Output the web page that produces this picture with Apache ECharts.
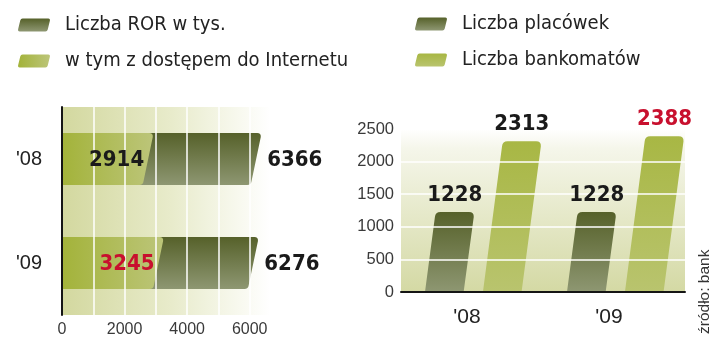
<!DOCTYPE html>
<html><head><meta charset="utf-8">
<script src="https://cdn.jsdelivr.net/npm/echarts@6/dist/echarts.min.js"></script>
<style>html,body{margin:0;padding:0;background:#fff}#c{width:720px;height:341px}</style>
</head><body><div id="c"></div>
<script>
// ---- data ----
const yearsLeft = ["'08", "'09"];
const rorTotal = [6366, 6276];          // Liczba ROR w tys.
const rorInternet = [2914, 3245];       // w tym z dostępem do Internetu
const leftTicks = [0, 2000, 4000, 6000];

const yearsRight = ["'08", "'09"];
const placowki = [1228, 1228];          // Liczba placówek
const bankomaty = [2313, 2388];         // Liczba bankomatów
const rightTicks = [0, 500, 1000, 1500, 2000, 2500];

// ---- styling ----
const NARROW = "'Liberation Sans Narrow','DejaVu Sans Condensed','Liberation Sans',sans-serif";
const NUMFONT = "bold 22px " + NARROW;
const RED = '#c8102e';
const INK = '#1a1a1a';
const G = echarts.graphic.LinearGradient;
const darkFill = () => new G(0, 0, 0, 1, [{offset: 0, color: '#56612a'}, {offset: 1, color: '#8e9772'}]);
const lightFillH = () => new G(0, 0, 1, 0, [{offset: 0, color: '#a3b33a'}, {offset: 1, color: '#bcc579'}]);
const lightFillV = () => new G(0, 0, 0, 1, [{offset: 0, color: '#a8b744'}, {offset: 1, color: '#b9c46e'}]);

function hBarPath(x0, x1, top, bot, slant, r) {
  return 'M' + x0 + ',' + top +
    ' L' + (x1 - r) + ',' + top +
    ' Q' + x1 + ',' + top + ' ' + (x1 - 0.4) + ',' + (top + r) +
    ' L' + (x1 - slant + 0.4) + ',' + (bot - r) +
    ' Q' + (x1 - slant) + ',' + bot + ' ' + (x1 - slant - r) + ',' + bot +
    ' L' + x0 + ',' + bot + ' Z';
}
function vBarPath(bl, br, base, top, slant, r) {
  const tl = bl + slant, tr = br + slant;
  return 'M' + bl + ',' + base +
    ' L' + (tl - 0.5) + ',' + (top + r) +
    ' Q' + tl + ',' + top + ' ' + (tl + r) + ',' + top +
    ' L' + (tr - r) + ',' + top +
    ' Q' + tr + ',' + top + ' ' + (tr - 0.3) + ',' + (top + r) +
    ' L' + br + ',' + base + ' Z';
}

function leftRender(kind, mode) {
  return function (params, api) {
    const v = api.value(0), c = api.value(1);
    const end = api.coord([v, c]);
    const start = api.coord([0, c]);
    const bh = api.size([0, 1])[1] * 0.5;
    const top = end[1] - bh / 2, bot = end[1] + bh / 2;
    if (mode === 'bar') {
      return {type: 'path', shape: {pathData: hBarPath(start[0], end[0], top, bot, 10, 4)},
        style: {fill: kind === 'dark' ? darkFill() : lightFillH()}};
    }
    if (kind === 'dark') {
      return {type: 'text', style: {text: String(v), x: end[0] + 6, y: end[1] + 1,
        align: 'left', verticalAlign: 'middle', font: NUMFONT, fill: INK}};
    }
    return {type: 'text', style: {text: String(v), x: end[0] - 9, y: end[1] + 1,
      align: 'right', verticalAlign: 'middle', font: NUMFONT,
      fill: params.dataIndex === rorInternet.length - 1 ? RED : INK}};
  };
}

function rightRender(kind, mode) {
  return function (params, api) {
    const c = api.value(0), v = api.value(1);
    const base = api.coord([c, 0]);
    const topP = api.coord([c, v]);
    const bw = api.size([1, 0])[0];
    const off0 = kind === 'dark' ? -0.331 : 0.077;
    const w = 0.272 * bw;
    const bl = base[0] + off0 * bw, br = bl + w;
    const h = base[1] - topP[1];
    const slant = 0.13 * h;
    const topCx = bl + slant + w / 2;
    if (mode === 'bar') {
      return {type: 'path', shape: {pathData: vBarPath(bl, br, base[1], topP[1], slant, 5)},
        style: {fill: kind === 'dark' ? darkFill() : lightFillV()}};
    }
    return {type: 'text', style: {text: String(v), x: topCx, y: topP[1] - 6, align: 'center',
      verticalAlign: 'bottom', font: NUMFONT,
      fill: (kind === 'light' && params.dataIndex === bankomaty.length - 1) ? RED : INK}};
  };
}

const chart = echarts.init(document.getElementById('c'), null, {renderer: 'canvas'});
const legendIcon = 'path://M5,0 L31,0 Q33,0 32.6,2 L30.4,11 Q30,13 28,13 L2,13 Q0,13 0.4,11 L2.6,2 Q3,0 5,0 Z';
const legendText = {fontFamily: NARROW, fontSize: 20, lineHeight: 20, color: '#222', padding: [0, 0, 0, 10]};

const leftDataTotal = rorTotal.map((v, i) => [v, i]);
const leftDataNet = rorInternet.map((v, i) => [v, i]);
const rightDataP = placowki.map((v, i) => [i, v]);
const rightDataB = bankomaty.map((v, i) => [i, v]);

chart.setOption({
  animation: false,
  backgroundColor: '#fff',
  legend: [
    {orient: 'vertical', left: 13, top: 10, itemWidth: 32, itemHeight: 14, itemGap: 16,
     textStyle: legendText, selectedMode: false,
     data: [
       {name: 'Liczba ROR w tys.', icon: legendIcon, itemStyle: {color: darkFill()}},
       {name: 'w tym z dostępem do Internetu', icon: legendIcon, itemStyle: {color: lightFillH()}}
     ]},
    {orient: 'vertical', left: 410, top: 9, itemWidth: 32, itemHeight: 14, itemGap: 16,
     textStyle: legendText, selectedMode: false,
     data: [
       {name: 'Liczba placówek', icon: legendIcon, itemStyle: {color: darkFill()}},
       {name: 'Liczba bankomatów', icon: legendIcon, itemStyle: {color: lightFillV()}}
     ]}
  ],
  grid: [
    {left: 62, top: 107, width: 219, height: 208, show: true, borderWidth: 0,
     backgroundColor: new G(0, 0, 1, 0, [{offset: 0, color: '#d3d89f'}, {offset: 0.5, color: '#e8ebcb'}, {offset: 0.95, color: '#ffffff'}])},
    {left: 401, right: 35, top: 129, bottom: 49, show: true, borderWidth: 0,
     backgroundColor: new G(0, 0, 0, 1, [{offset: 0, color: '#ffffff'}, {offset: 0.12, color: '#f5f6ea'}, {offset: 1, color: '#d4d9a4'}])}
  ],
  xAxis: [
    {gridIndex: 0, type: 'value', min: 0, max: 7000, interval: 1000, z: 5,
     axisLine: {show: false}, axisTick: {show: false},
     splitLine: {show: true, lineStyle: {color: '#ffffff', width: 1.5}},
     axisLabel: {margin: 7, color: '#3a3a3a', fontFamily: "'Liberation Sans',sans-serif", fontSize: 16,
       formatter: v => leftTicks.indexOf(v) >= 0 ? String(v) : ''}},
    {gridIndex: 1, type: 'category', data: yearsRight, z: 5,
     axisLine: {show: true, lineStyle: {color: '#151515', width: 2}}, axisTick: {show: false},
     axisLabel: {margin: 15, color: '#222', fontFamily: "'Liberation Sans',sans-serif", fontSize: 21,
       padding: [0, 10, 0, 0]}}
  ],
  yAxis: [
    {gridIndex: 0, type: 'category', data: yearsLeft, inverse: true, z: 5,
     axisLine: {show: true, lineStyle: {color: '#151515', width: 2}}, axisTick: {show: false},
     axisLabel: {margin: 20, color: '#222', fontFamily: "'Liberation Sans',sans-serif", fontSize: 20}},
    {gridIndex: 1, type: 'value', min: 0, max: 2500, interval: 500, z: 5,
     axisLine: {show: false}, axisTick: {show: false},
     splitLine: {show: true, lineStyle: {color: '#ffffff', width: 1.5}},
     axisLabel: {margin: 7, color: '#3a3a3a', fontFamily: "'Liberation Sans',sans-serif", fontSize: 16.5,
       formatter: v => rightTicks.indexOf(v) >= 0 ? String(v) : ''}}
  ],
  series: [
    {name: 'Liczba ROR w tys.', type: 'custom', xAxisIndex: 0, yAxisIndex: 0, z: 2,
     encode: {x: 0, y: 1}, renderItem: leftRender('dark', 'bar'), data: leftDataTotal},
    {name: 'w tym z dostępem do Internetu', type: 'custom', xAxisIndex: 0, yAxisIndex: 0, z: 3,
     encode: {x: 0, y: 1}, renderItem: leftRender('light', 'bar'), data: leftDataNet},
    {name: 'Liczba placówek', type: 'custom', xAxisIndex: 1, yAxisIndex: 1, z: 2,
     encode: {x: 0, y: 1}, renderItem: rightRender('dark', 'bar'), data: rightDataP},
    {name: 'Liczba bankomatów', type: 'custom', xAxisIndex: 1, yAxisIndex: 1, z: 2,
     encode: {x: 0, y: 1}, renderItem: rightRender('light', 'bar'), data: rightDataB},
    // value labels, drawn above the grid lines
    {name: 'lbl1', type: 'custom', xAxisIndex: 0, yAxisIndex: 0, z: 8, silent: true,
     encode: {x: 0, y: 1}, renderItem: leftRender('dark', 'label'), data: leftDataTotal},
    {name: 'lbl2', type: 'custom', xAxisIndex: 0, yAxisIndex: 0, z: 8, silent: true,
     encode: {x: 0, y: 1}, renderItem: leftRender('light', 'label'), data: leftDataNet},
    {name: 'lbl3', type: 'custom', xAxisIndex: 1, yAxisIndex: 1, z: 8, silent: true,
     encode: {x: 0, y: 1}, renderItem: rightRender('dark', 'label'), data: rightDataP},
    {name: 'lbl4', type: 'custom', xAxisIndex: 1, yAxisIndex: 1, z: 8, silent: true,
     encode: {x: 0, y: 1}, renderItem: rightRender('light', 'label'), data: rightDataB}
  ],
  graphic: [
    {type: 'text', x: 713, y: 334, rotation: Math.PI / 2,
     style: {text: 'źródło: bank', font: "15.5px 'Liberation Sans',sans-serif", fill: '#333',
       align: 'left', verticalAlign: 'bottom'}}
  ]
});
</script>
</body></html>
